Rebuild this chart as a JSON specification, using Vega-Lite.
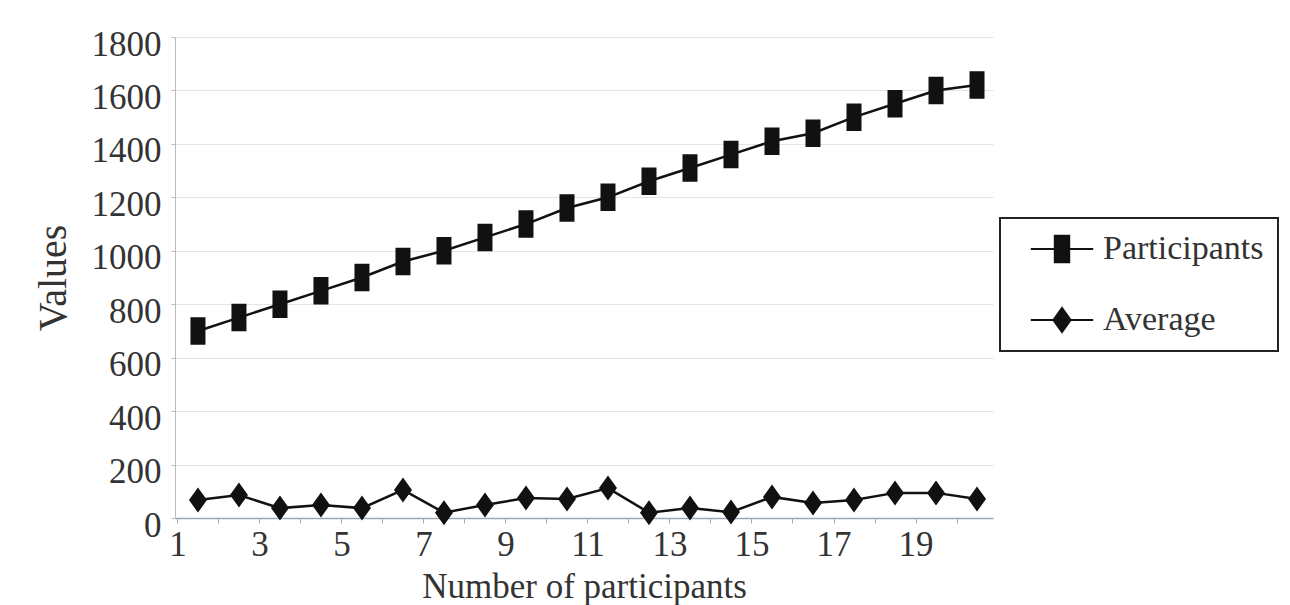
{
  "$schema": "https://vega.github.io/schema/vega-lite/v6.json",
  "width": 818,
  "height": 481,
  "autosize": {"type": "none"},
  "padding": {"left": 175, "top": 37, "right": 297, "bottom": 87},
  "background": "white",
  "config": {
    "view": {"stroke": null},
    "font": "Liberation Serif",
    "legend": {"symbolSize": 576, "strokeWidth": 2}
  },
  "data": {
    "values": [
      {"n": 1, "series": "Participants", "value": 700},
      {"n": 2, "series": "Participants", "value": 750},
      {"n": 3, "series": "Participants", "value": 800},
      {"n": 4, "series": "Participants", "value": 850},
      {"n": 5, "series": "Participants", "value": 900},
      {"n": 6, "series": "Participants", "value": 960},
      {"n": 7, "series": "Participants", "value": 1000},
      {"n": 8, "series": "Participants", "value": 1050},
      {"n": 9, "series": "Participants", "value": 1100},
      {"n": 10, "series": "Participants", "value": 1160},
      {"n": 11, "series": "Participants", "value": 1200},
      {"n": 12, "series": "Participants", "value": 1260},
      {"n": 13, "series": "Participants", "value": 1310},
      {"n": 14, "series": "Participants", "value": 1360},
      {"n": 15, "series": "Participants", "value": 1410},
      {"n": 16, "series": "Participants", "value": 1440},
      {"n": 17, "series": "Participants", "value": 1500},
      {"n": 18, "series": "Participants", "value": 1550},
      {"n": 19, "series": "Participants", "value": 1600},
      {"n": 20, "series": "Participants", "value": 1620},
      {"n": 1, "series": "Average", "value": 67},
      {"n": 2, "series": "Average", "value": 86},
      {"n": 3, "series": "Average", "value": 37},
      {"n": 4, "series": "Average", "value": 49},
      {"n": 5, "series": "Average", "value": 37},
      {"n": 6, "series": "Average", "value": 105},
      {"n": 7, "series": "Average", "value": 20},
      {"n": 8, "series": "Average", "value": 49},
      {"n": 9, "series": "Average", "value": 75},
      {"n": 10, "series": "Average", "value": 71},
      {"n": 11, "series": "Average", "value": 112},
      {"n": 12, "series": "Average", "value": 20},
      {"n": 13, "series": "Average", "value": 37},
      {"n": 14, "series": "Average", "value": 22},
      {"n": 15, "series": "Average", "value": 79},
      {"n": 16, "series": "Average", "value": 56},
      {"n": 17, "series": "Average", "value": 67},
      {"n": 18, "series": "Average", "value": 94},
      {"n": 19, "series": "Average", "value": 94},
      {"n": 20, "series": "Average", "value": 71}
    ]
  },
  "encoding": {
    "x": {
      "field": "n",
      "type": "quantitative",
      "scale": {"domain": [0.44, 20.39], "nice": false, "zero": false},
      "axis": {
        "values": [1,2,3,4,5,6,7,8,9,10,11,12,13,14,15,16,17,18,19,20],
        "labelExpr": "datum.value % 2 == 1 ? datum.label : ''",
        "tickOffset": -20.5,
        "grid": false,
        "domainColor": "#9aa8b8",
        "domainWidth": 1.5,
        "tickColor": "#aaa",
        "tickSize": 5,
        "labelFontSize": 35,
        "labelColor": "#333",
        "labelPadding": 4,
        "labelFlush": false,
        "labelOverlap": false,
        "title": "Number of participants",
        "titleFontSize": 35,
        "titleFontWeight": "normal",
        "titleColor": "#333",
        "titlePadding": 7
      }
    },
    "y": {
      "field": "value",
      "type": "quantitative",
      "scale": {"domain": [0, 1800], "nice": false},
      "axis": {
        "values": [0,200,400,600,800,1000,1200,1400,1600,1800],
        "format": "d",
        "grid": true,
        "gridColor": "#e4e4e4",
        "gridWidth": 1,
        "domainColor": "#bbb",
        "tickColor": "#bbb",
        "tickSize": 4,
        "labelFontSize": 35,
        "labelColor": "#333",
        "labelPadding": 10,
        "labelOffset": 7,
        "labelFlush": false,
        "title": "Values",
        "titleFontSize": 40,
        "titleFontWeight": "normal",
        "titleColor": "#333",
        "titlePadding": 18
      }
    }
  },
  "layer": [
    {
      "mark": {"type": "line", "strokeWidth": 2.5},
      "encoding": {
        "color": {
          "field": "series",
          "type": "nominal",
          "scale": {"domain": ["Participants", "Average"], "range": ["#111", "#111"]}
        }
      }
    },
    {
      "mark": {"type": "point", "filled": true, "color": "#111", "opacity": 1, "size": 625},
      "encoding": {
        "shape": {
          "field": "series",
          "type": "nominal",
          "scale": {
            "domain": ["Participants", "Average"],
            "range": ["M-2.6,0H2.6M-0.6,-1.1H0.6V1.1H-0.6Z", "M-2.6,0H2.6M-0.72,0L0,-1L0.72,0L0,1Z"]
          },
          "legend": {
            "title": null,
            "orient": "none",
            "legendX": 825,
            "legendY": 181,
            "padding": 14,
            "strokeColor": "#222",
            "labelFont": "Liberation Serif",
            "labelFontSize": 34,
            "labelColor": "#333",
            "labelLimit": 400,
            "symbolOffset": 31,
            "labelOffset": 24,
            "rowPadding": 36,
            "symbolStrokeWidth": 2,
            "symbolFillColor": "#111",
            "symbolOpacity": 1
          }
        }
      }
    }
  ]
}
